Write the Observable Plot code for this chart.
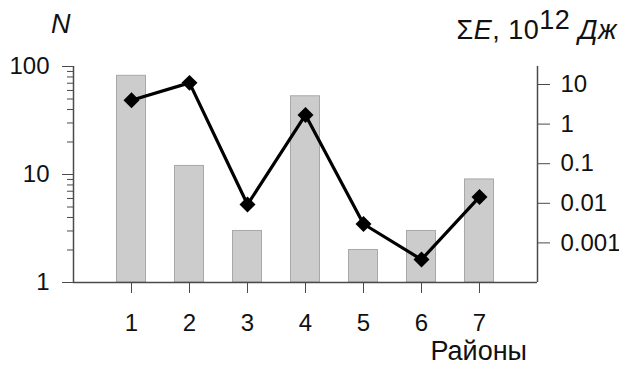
<!DOCTYPE html>
<html>
<head>
<meta charset="utf-8">
<script src="https://cdn.jsdelivr.net/npm/d3@7"></script>
<script src="https://cdn.jsdelivr.net/npm/@observablehq/plot@0.6"></script>
<style>
  html, body { margin: 0; padding: 0; background: #fff; }
  #wrap { position: relative; width: 619px; height: 370px; overflow: hidden;
          font-family: "Liberation Sans", Arial, sans-serif; color: #111; }
  #wrap svg { position: absolute; left: 0; top: 0; }
  .lbl { position: absolute; font-size: 27px; line-height: 27px; white-space: nowrap; }
  .sup { position: relative; top: -10px; }
</style>
</head>
<body>
<div id="wrap"></div>
<script>
// ---- data ----
const districts = [1, 2, 3, 4, 5, 6, 7];
const counts    = [82, 12, 3, 53, 2, 3, 9];                 // N (left, log)
const energy    = [4.0, 11, 0.0093, 1.7, 0.003, 0.00038, 0.0145]; // ΣE, 10^12 J (right, log)
const leftMajorTicks = [1, 10, 100];
const leftMinorTicks = [2, 3, 4, 5, 6, 7, 8, 9, 20, 30, 40, 50, 60, 70, 80, 90];
const rightTicks = [0.001, 0.01, 0.1, 1, 10];
const xTicks = [1, 2, 3, 4, 5, 6, 7];
const xDomain = [0, 8];
const leftDomain = [1, 100];
const rightDomain = [1e-4, 28.5];

const rows = districts.map((d, i) => ({ d, n: counts[i], e: energy[i] }));

const W = 619, H = 370;
const margins = { marginLeft: 73, marginRight: 82, marginTop: 66, marginBottom: 88 };
const style = { fontFamily: '"Liberation Sans", Arial, sans-serif', fontSize: "24px",
                color: "#111", background: "transparent", overflow: "visible" };
const axisColor = "#4a4a4a";

// Plot 1: bars, left axis, x axis
const p1 = Plot.plot({
  width: W, height: H, ...margins, style,
  x: { type: "linear", domain: xDomain },
  y: { type: "log", domain: leftDomain },
  marks: [
    Plot.rectY(rows, { x1: r => r.d - 0.25, x2: r => r.d + 0.25, y1: 1, y2: "n",
                       fill: "#cccccc", stroke: "#a8a8a8", strokeWidth: 1 }),
    Plot.axisY({ ticks: leftMinorTicks, tickSize: 6, tickFormat: () => "", stroke: axisColor, label: null }),
    Plot.axisY({ ticks: leftMajorTicks, tickSize: 11, tickPadding: 13, tickFormat: d => String(d),
                 stroke: axisColor, fill: "#111", label: null }),
    Plot.axisX({ ticks: xTicks, tickSize: 11, tickPadding: 20, tickFormat: d => String(d),
                 stroke: axisColor, fill: "#111", label: null }),
    Plot.ruleX([0], { stroke: axisColor, strokeWidth: 1.5 }),
    Plot.ruleY([1], { stroke: axisColor, strokeWidth: 1.5 })
  ]
});

// Plot 2: energy line, diamonds, right axis
const p2 = Plot.plot({
  width: W, height: H, ...margins, style,
  x: { type: "linear", domain: xDomain, axis: null },
  y: { type: "log", domain: rightDomain },
  marks: [
    Plot.ruleX([8], { stroke: axisColor, strokeWidth: 1.5 }),
    Plot.axisY({ anchor: "right", ticks: rightTicks, tickSize: 12, tickPadding: 11,
                 tickFormat: d => String(d), stroke: axisColor, fill: "#111", label: null }),
    Plot.line(rows, { x: "d", y: "e", stroke: "#000", strokeWidth: 3.2 }),
    Plot.dot(rows, { x: "d", y: "e", symbol: "diamond2", r: 7.2, fill: "#000", stroke: "none" })
  ]
});

const wrap = document.getElementById("wrap");
wrap.appendChild(p1);
wrap.appendChild(p2);

function addLabel(html, css) {
  const el = document.createElement("div");
  el.className = "lbl";
  el.innerHTML = html;
  Object.assign(el.style, css);
  wrap.appendChild(el);
}
addLabel("<i>N</i>", { left: "51px", top: "11px" });
addLabel("Σ<i>E</i>, 10<span class='sup'>12</span> <i>Дж</i>", { right: "2px", top: "17px", letterSpacing: "0.5px" });
addLabel("Районы", { right: "92px", top: "338px" });
</script>
</body>
</html>
